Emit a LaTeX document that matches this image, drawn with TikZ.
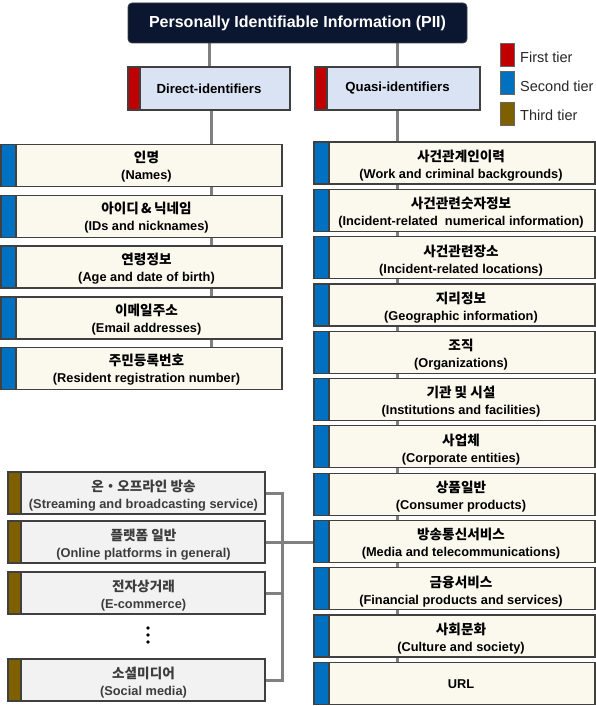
\documentclass[tikz,border=0pt]{standalone}
\usepackage{fontspec}
\setmainfont{Liberation Sans}
\newfontfamily\krfont{Noto Sans CJK KR}
\usetikzlibrary{backgrounds}
\definecolor{navy}{HTML}{0B1630}
\definecolor{lblue}{HTML}{DAE3F3}
\definecolor{tierred}{HTML}{C00000}
\definecolor{tierblue}{HTML}{0070C0}
\definecolor{tierbrown}{HTML}{7F6000}
\definecolor{cream}{HTML}{FBF9EE}
\definecolor{lgray}{HTML}{F2F2F2}
\definecolor{edge}{HTML}{404040}
\definecolor{conn}{HTML}{808080}
\definecolor{darktext}{HTML}{3D3D3D}
\definecolor{legtext}{HTML}{262626}
\newcommand\kl[2]{{\krfont\bfseries\fontsize{13.6}{13.6}\selectfont #1}\\[3pt]{#2}}
\begin{document}
\begin{tikzpicture}[x=1pt,y=-1pt,
  box/.style={draw=edge, line width=1.2pt, rectangle, inner sep=0pt},
  lab/.style={inner sep=0pt, align=center, font=\bfseries\fontsize{12.8}{14}\selectfont},
  barred/.style 2 args={path picture={
    \fill[#1] (path picture bounding box.north west) rectangle ([xshift=#2]path picture bounding box.south west);
    \draw[edge, line width=1.2pt] ([xshift=#2]path picture bounding box.north west) -- ([xshift=#2]path picture bounding box.south west);}},
  tierone/.style={box, fill=lblue, minimum height=43pt, barred={tierred}{12pt}},
  tiertwo/.style={box, fill=cream, minimum width=281pt, minimum height=42pt, barred={tierblue}{15pt}},
  tierthree/.style={box, fill=lgray, minimum width=257pt, minimum height=42pt, barred={tierbrown}{13pt}},
  legbox/.style={draw=edge!80, line width=1pt, minimum width=14pt, minimum height=23pt, inner sep=0pt},
  legtxt/.style={anchor=west, inner sep=0pt, text=legtext, font=\fontsize{14.5}{15}\selectfont},
  conline/.style={draw=conn, line width=3pt},
  dot/.style={circle, fill=black, inner sep=0pt, minimum size=3.6pt}
]
\useasboundingbox (0,0) rectangle (596,706);

% root
\node[draw=edge, fill=navy, rounded corners=4pt, line width=0.8pt, minimum width=339pt, minimum height=40pt,
  text=white, font=\bfseries\fontsize{16}{17}\selectfont] (pii) at (297.5,23) {Personally Identifiable Information (PII)};

% first tier
\node[tierone, minimum width=162pt] (direct) at (209,88.5) {};
\node[lab, font=\bfseries\fontsize{13.2}{14}\selectfont] (direct-t) at (direct.center) {Direct-identifiers};
\node[tierone, minimum width=165pt] (quasi) at (397.5,88.5) {};
\node[lab, font=\bfseries\fontsize{13.2}{14}\selectfont] (quasi-t) at (quasi.center) {Quasi-identifiers};

% legend
\node[legbox, fill=tierred] (lg1) at (507,55.5) {};
\node[legbox, fill=tierblue] (lg2) at (507,83.5) {};
\node[legbox, fill=tierbrown] (lg3) at (507,114) {};
\node[legtxt] (lt1) at (520,57) {First tier};
\node[legtxt] (lt2) at (520,86) {Second tier};
\node[legtxt] (lt3) at (520,115.5) {Third tier};

% direct identifiers (second tier, left)
\foreach \n/\y/\k/\e in {
  L1/165.5/{인명}/{(Names)},
  L2/216.5/{아이디\,\&\,닉네임}/{(IDs and nicknames)},
  L3/267/{연령정보}/{(Age and date of birth)},
  L4/318/{이메일주소}/{(Email addresses)},
  L5/368.5/{주민등록번호}/{(Resident registration number)}}{
  \node[tiertwo] (\n) at (141.5,\y) {};
  \node[lab, xshift=5pt, yshift=-1.5pt] (\n-t) at (\n.center) {\kl{\k}{\e}};
}

% quasi identifiers (second tier, right)
\foreach \n/\y/\k/\e in {
  R1/163/{사건관계인이력}/{(Work and criminal backgrounds)},
  R2/210.3/{사건관련숫자정보}/{(Incident-related\ \ numerical information)},
  R3/257.6/{사건관련장소}/{(Incident-related locations)},
  R4/304.9/{지리정보}/{(Geographic information)},
  R5/352.2/{조직}/{(Organizations)},
  R6/399.5/{기관 및 시설}/{(Institutions and facilities)},
  R7/446.8/{사업체}/{(Corporate entities)},
  R8/494.1/{상품일반}/{(Consumer products)},
  R9/541.4/{방송통신서비스}/{(Media and telecommunications)},
  R10/588.7/{금융서비스}/{(Financial products and services)},
  R11/636/{사회문화}/{(Culture and society)}}{
  \node[tiertwo] (\n) at (454.5,\y) {};
  \node[lab, xshift=6.5pt, yshift=-2.5pt] (\n-t) at (\n.center) {\kl{\k}{\e}};
}
\node[tiertwo] (R12) at (454.5,683.3) {};
\node[lab, xshift=6.5pt, yshift=-1pt] (R12-t) at (R12.center) {URL};

% third tier
\foreach \n/\y/\k/\e in {
  T1/493/{온・오프라인 방송}/{(Streaming and broadcasting service)},
  T2/542/{플랫폼 일반}/{(Online platforms in general)},
  T3/593/{전자상거래}/{(E-commerce)},
  T4/680/{소셜미디어}/{(Social media)}}{
  \node[tierthree] (\n) at (136.5,\y) {};
  \node[lab, text=darktext, xshift=7pt, yshift=-2.5pt] (\n-t) at (\n.center) {\kl{\k}{\e}};
}

% dots
\node[dot] (d1) at (148,628) {};
\node[dot] (d2) at (148,635) {};
\node[dot] (d3) at (148,642) {};

\coordinate (bx) at (282,493);

\begin{scope}[on background layer]
  \draw[conline] (direct.north |- pii.south) -- (direct.north);
  \draw[conline] (quasi.north |- pii.south) -- (quasi.north);
  \draw[conline] ([xshift=2pt]direct.south) -- ([xshift=2pt]direct.south |- L5.north);
  \draw[conline] (quasi.south) -- (quasi.south |- R12.north);
  \draw[conline] (T1.east) -- (T1.east -| bx) -- (T4.east -| bx) -- (T4.east);
  \draw[conline] (T3.east) -- (T3.east -| bx);
  \draw[conline] (T2.east) -- (T2.east -| R9.west);
\end{scope}
\end{tikzpicture}
\end{document}
